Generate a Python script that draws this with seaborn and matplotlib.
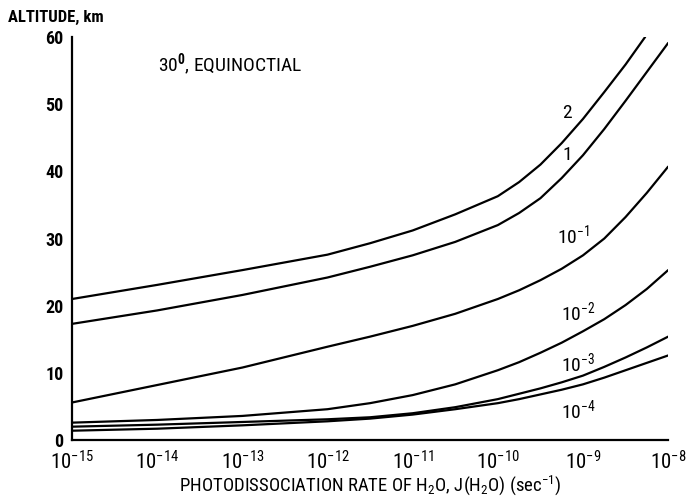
import matplotlib
matplotlib.use("Agg")
import matplotlib.pyplot as plt
import matplotlib.ticker as mticker
from matplotlib import font_manager
import seaborn as sns
import pandas as pd

# ---- data; x given as log10 of J (sec^-1) ----
logj_2 = [-15, -14, -13, -12, -11.5, -11, -10.5, -10, -9.75, -9.5, -9.25, -9, -8.75, -8.5, -8.27]
alt_2 = [21.0, 23.1, 25.3, 27.6, 29.3, 31.2, 33.6, 36.3, 38.4, 41.0, 44.2, 47.8, 51.8, 55.9, 60.0]

logj_rest = [-15, -14, -13, -12, -11.5, -11, -10.5, -10, -9.75, -9.5, -9.25, -9, -8.75, -8.5, -8.25, -8]
alt_1 = [17.3, 19.3, 21.6, 24.2, 25.8, 27.5, 29.5, 32.0, 33.8, 36.0, 39.0, 42.4, 46.3, 50.5, 54.8, 59.1]
alt_e1 = [5.6, 8.2, 10.8, 13.9, 15.4, 17.0, 18.8, 21.0, 22.3, 23.8, 25.5, 27.5, 30.0, 33.2, 36.8, 40.7]
alt_e2 = [2.6, 3.0, 3.6, 4.6, 5.5, 6.7, 8.3, 10.4, 11.6, 13.0, 14.5, 16.2, 18.0, 20.1, 22.5, 25.3]
alt_e3 = [2.0, 2.3, 2.7, 3.1, 3.4, 4.0, 4.9, 6.1, 6.9, 7.7, 8.6, 9.6, 10.9, 12.3, 13.8, 15.4]
alt_e4 = [1.4, 1.7, 2.2, 2.8, 3.2, 3.8, 4.6, 5.5, 6.1, 6.8, 7.5, 8.3, 9.3, 10.4, 11.5, 12.6]

series_names = ["2", "1", "1e-1", "1e-2", "1e-3", "1e-4"]
series_logj = [logj_2, logj_rest, logj_rest, logj_rest, logj_rest, logj_rest]
series_alt = [alt_2, alt_1, alt_e1, alt_e2, alt_e3, alt_e4]

curve_labels = ["2", "1", r"$10^{-1}$", r"$10^{-2}$", r"$10^{-3}$", r"$10^{-4}$"]
label_logx = [-9.19, -9.19, -9.12, -9.06, -9.06, -9.06]
label_y = [48.7, 42.4, 30.5, 19.0, 11.5, 4.5]

x_ticks = [1e-15, 1e-14, 1e-13, 1e-12, 1e-11, 1e-10, 1e-9, 1e-8]
x_ticklabels = [r"$10^{-15}$", r"$10^{-14}$", r"$10^{-13}$", r"$10^{-12}$",
                r"$10^{-11}$", r"$10^{-10}$", r"$10^{-9}$", r"$10^{-8}$"]
y_ticks = [0, 10, 20, 30, 40, 50, 60]

rows = []
for name, ls, alts in zip(series_names, series_logj, series_alt):
    for lj, a in zip(ls, alts):
        rows.append({"series": name, "J": 10.0 ** lj, "alt": a})
df = pd.DataFrame(rows)

sns.set_theme(style="white")

# pick a narrow font if available
names = {f.name for f in font_manager.fontManager.ttflist}
narrow = None
for cand in ["Liberation Sans Narrow", "DejaVu Sans Condensed", "Roboto Condensed",
             "Open Sans Condensed"]:
    if cand in names:
        narrow = cand
        break
fam = [narrow, "DejaVu Sans"] if narrow else ["DejaVu Sans"]
plt.rcParams["font.family"] = fam
plt.rcParams["mathtext.fontset"] = "custom"
plt.rcParams["mathtext.rm"] = fam[0]
plt.rcParams["mathtext.it"] = fam[0]
plt.rcParams["mathtext.bf"] = fam[0] + ":bold"

fig = plt.figure(figsize=(6.86, 4.99), dpi=100)
ax = fig.add_axes([0.105, 0.118, 0.869, 0.808])

sns.lineplot(data=df, x="J", y="alt", hue="series", hue_order=series_names,
             palette=["black"] * len(series_names), linewidth=1.6,
             legend=False, ax=ax, sort=True, estimator=None)

ax.set_xscale("log")
ax.set_xlim(1e-15, 1e-8)
ax.set_ylim(0, 60)
ax.set_xticks(x_ticks)
ax.set_xticklabels(x_ticklabels, fontsize=15)
ax.xaxis.set_minor_locator(mticker.LogLocator(base=10, subs=(2.0, 5.0), numticks=50))
ax.xaxis.set_minor_formatter(mticker.NullFormatter())
ax.set_yticks(y_ticks)
ax.set_yticklabels([str(v) for v in y_ticks], fontsize=13, fontweight="bold")

for s in ["top", "right"]:
    ax.spines[s].set_visible(False)
for s in ["left", "bottom"]:
    ax.spines[s].set_color("black")
    ax.spines[s].set_linewidth(1.6)

ax.tick_params(axis="x", which="major", direction="in", length=12, width=1.4,
               colors="black", pad=7.5)
ax.tick_params(axis="x", which="minor", direction="in", length=6, width=1.2,
               colors="black")
ax.tick_params(axis="y", which="major", direction="in", length=12, width=1.2,
               colors="black", pad=6)
ax.tick_params(axis="y", which="minor", left=False)

ax.set_xlabel(r"PHOTODISSOCIATION RATE OF H$_2$O, J(H$_2$O) (sec$^{-1}$)",
              fontsize=13.5, labelpad=0, color="black")
ax.set_ylabel("")
fig.text(0.012, 0.965, "ALTITUDE, km", fontsize=12, fontweight="bold",
         ha="left", va="center", color="black")

ax.text(10 ** -13.99, 55.8, r"30$^{\mathbf{0}}$, EQUINOCTIAL", fontsize=14,
        ha="left", va="center", color="black")

for lab, lx, ly in zip(curve_labels, label_logx, label_y):
    ax.text(10 ** lx, ly, lab, fontsize=14, ha="center", va="center", color="black")

fig.savefig("out.png", dpi=100)
